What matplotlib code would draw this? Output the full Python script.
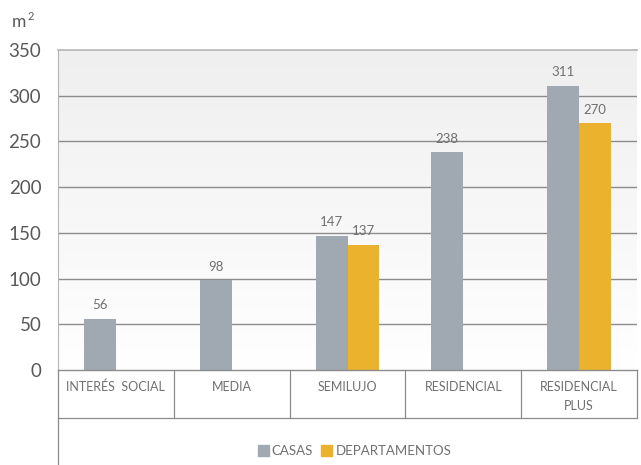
import numpy as np
import matplotlib
matplotlib.use('Agg')
import matplotlib.pyplot as plt
from matplotlib.patches import Rectangle

# datos
segmentos = ['INTERÉS  SOCIAL', 'MEDIA', 'SEMILUJO', 'RESIDENCIAL', 'RESIDENCIAL\nPLUS']
casas = [56, 98, 147, 238, 311]
departamentos = [None, None, 137, None, 270]
series = ['CASAS', 'DEPARTAMENTOS']
y_ticks = [0, 50, 100, 150, 200, 250, 300, 350]

color_casas = '#a0a9b1'
color_deptos = '#ebb32d'
gris_texto = '#595959'
gris_claro = '#707070'

plt.rcParams['font.family'] = ['Lato', 'DejaVu Sans']

fig = plt.figure(figsize=(6.41, 4.65), dpi=100)
ax = fig.add_axes([58 / 641, 95 / 465, 579 / 641, 320 / 465])

n = len(segmentos)
ax.set_xlim(0, n)
ax.set_ylim(0, 350)

# fondo degradado
grad = np.linspace(1.0, 0.0, 256).reshape(-1, 1)
ax.imshow(grad, extent=[0, n, 0, 350], aspect='auto',
          cmap=matplotlib.colors.LinearSegmentedColormap.from_list('g', ['#ffffff', '#efefef']),
          zorder=0)

for t in y_ticks[1:-1]:
    ax.axhline(t, color='#8c8c8c', lw=1, zorder=1)

ancho = 0.276
x = np.arange(n) + 0.5
ax.bar(x - ancho / 2, casas, width=ancho, color=color_casas, zorder=2)
for i, v in enumerate(casas):
    ax.text(x[i] - ancho / 2, v + 8, str(v), ha='center', va='bottom', fontsize=9.5, color=gris_claro)
for i, v in enumerate(departamentos):
    if v is None:
        continue
    ax.bar(x[i] + ancho / 2, v, width=ancho, color=color_deptos, zorder=2)
    ax.text(x[i] + ancho / 2, v + 8, str(v), ha='center', va='bottom', fontsize=9.5, color=gris_claro)

ax.set_xticks([])
ax.set_yticks(y_ticks)
ax.tick_params(axis='y', length=0, labelsize=13.5, labelcolor=gris_texto, pad=12)
for s in ['top', 'right', 'bottom']:
    ax.spines[s].set_visible(False)
ax.spines['left'].set_color('#b4b4b4')
ax.plot([0, n], [350, 350], color='#b4b4b4', lw=1.2, clip_on=False, zorder=3)
ax.plot([0, n], [0, 0], color='#8c8c8c', lw=1, clip_on=False, zorder=3)

# tabla de categorias
fila = -0.15
linea = dict(color='#8c8c8c', lw=0.9, clip_on=False, transform=ax.transAxes)
ax.plot([0, 1], [fila, fila], **linea)
for i in range(1, n + 1):
    ax.plot([i / n, i / n], [0, fila], **linea)
ax.plot([0, 0], [0, -0.3], **linea)
for i, seg in enumerate(segmentos):
    ax.text((i + 0.5) / n, -0.034, seg, transform=ax.transAxes, ha='center', va='top',
            fontsize=9, color=gris_claro, linespacing=1.7)

# leyenda
colores = [color_casas, color_deptos]
xs = [0.345, 0.455]
for xi, nombre, c in zip(xs, series, colores):
    ax.add_patch(Rectangle((xi, -0.27), 0.019, 0.035, transform=ax.transAxes, color=c, clip_on=False))
    ax.text(xi + 0.024, -0.2525, nombre, transform=ax.transAxes, ha='left', va='center',
            fontsize=9.5, color=gris_claro)

fig.text(12 / 641, 1 - 22 / 465, 'm', fontsize=12.5, color=gris_texto, va='center')
fig.text(28 / 641, 1 - 16 / 465, '2', fontsize=8, color=gris_texto, va='center')

fig.savefig('out.png', dpi=100)
